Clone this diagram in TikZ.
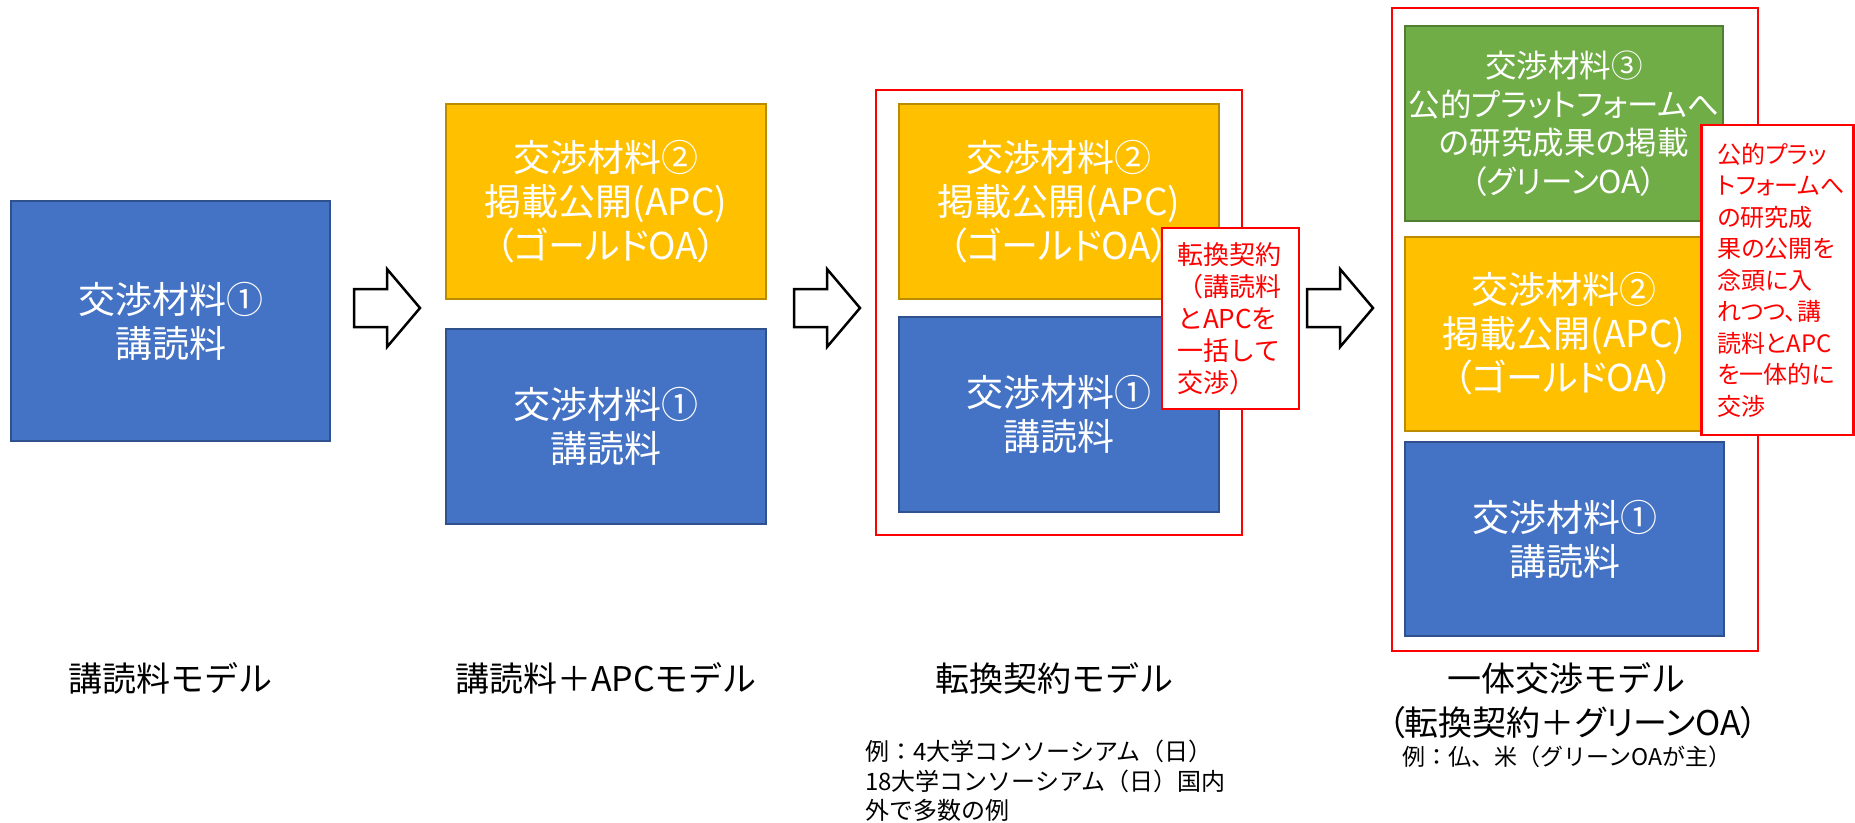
\documentclass[tikz,border=0pt]{standalone}
\usepackage{fontspec}
\setmainfont{Noto Sans CJK JP}
\newfontfamily\jpp{Noto Sans CJK JP}[RawFeature=+palt]
\definecolor{bblue}{HTML}{4472C4}
\definecolor{bblueD}{HTML}{2F528F}
\definecolor{borange}{HTML}{FFC000}
\definecolor{borangeD}{HTML}{BC8C00}
\definecolor{bgreen}{HTML}{70AD47}
\definecolor{bgreenD}{HTML}{507E32}
\definecolor{cred}{HTML}{FF0000}
\begin{document}
\begin{tikzpicture}[x=1pt,y=-1pt,
  base/.style={draw, line width=1.2pt, text=white, align=center, inner sep=0pt,
    font=\jpp\fontsize{37}{44}\selectfont},
  bluebox/.style={base, fill=bblue, draw=bblueD},
  orangebox/.style={base, fill=borange, draw=borangeD},
  greenbox/.style={base, fill=bgreen, draw=bgreenD, font=\jpp\fontsize{31.5}{38.5}\selectfont},
  redframe/.style={draw=cred, line width=2.5pt, inner sep=0pt},
  callout/.style={draw=cred, fill=white, line width=2.5pt, text=cred, align=left, inner ysep=0pt},
  title/.style={font=\fontsize{34}{40}\selectfont, text=black, inner sep=0pt},
  note/.style={font=\fontsize{24}{29.5}\selectfont, align=left, inner sep=0pt},
  arrowline/.style={draw=black, fill=white, line width=2.5pt, line join=miter},
  pics/blockarrow/.style={code={
    \draw[arrowline] (0,-19) -- (33,-19) -- (33,-39) -- (66,0) -- (33,39) -- (33,19) -- (0,19) -- cycle;}}
]
\useasboundingbox (0,0) rectangle (1855,822);

% column 1
\node[bluebox, minimum width=319pt, minimum height=240pt] (b1) at (170.5,321) {交渉材料①\\講読料};

% column 2
\node[orangebox, minimum width=320pt, minimum height=195pt] (o2) at (606,201.5) {交渉材料②\\掲載公開(APC)\\（ゴールドOA）};
\node[bluebox, minimum width=320pt, minimum height=195pt] (b2) at (606,426.5) {交渉材料①\\講読料};

% column 3
\node[redframe, minimum width=366pt, minimum height=445pt] (f3) at (1059,312.5) {};
\node[orangebox, minimum width=320pt, minimum height=195pt] (o3) at (1059,201.5) {交渉材料②\\掲載公開(APC)\\（ゴールドOA）};
\node[bluebox, minimum width=320pt, minimum height=195pt] (b3) at (1059,414.5) {交渉材料①\\講読料};
\node[callout, font=\fontsize{26}{32}\selectfont, text width=107pt, inner xsep=15pt, minimum height=181pt] (c3) at (1230.5,318.5) {転換契約\\（講読料\\とAPCを\\一括して\\交渉）};

% column 4
\node[redframe, minimum width=366pt, minimum height=643pt] (f4) at (1575,329.5) {};
\node[greenbox, minimum width=318pt, minimum height=195pt] (g4) at (1564,123.5) {交渉材料③\\公的プラットフォームへ\\の研究成果の掲載\\（グリーンOA）};
\node[orangebox, minimum width=318pt, minimum height=194pt, font=\jpp\fontsize{37}{44}\selectfont] (o4) at (1564,334) {交渉材料②\\掲載公開(APC)\\（ゴールドOA）};
\node[bluebox, minimum width=319pt, minimum height=194pt] (b4) at (1564.5,539) {交渉材料①\\講読料};
\node[callout, font=\jpp\fontsize{24}{31.5}\selectfont, text width=120pt, inner xsep=16pt, minimum height=310pt] (c4) at (1777.5,280) {公的プラッ\\トフォームへ\\の研究成\\果の公開を\\念頭に入\\れつつ、講\\読料とAPC\\を一体的に\\交渉};

% block arrows
\coordinate (a1) at (354,308);
\coordinate (a2) at (794,308);
\coordinate (a3) at (1307,308);
\pic at (a1) {blockarrow};
\pic at (a2) {blockarrow};
\pic at (a3) {blockarrow};

% titles
\node[title] (t1) at (170.5,678) {講読料モデル};
\node[title] (t2) at (606,678) {講読料＋APCモデル};
\node[title] (t3) at (1054,678) {転換契約モデル};
\node[title] (t4) at (1566,678) {一体交渉モデル};
\node[title, font=\jpp\fontsize{34}{40}\selectfont] (t4b) at (1573,723) {（転換契約＋グリーンOA）};
\node[note, font=\fontsize{23}{28}\selectfont] (n4) at (1567,757) {例：仏、米（グリーンOAが主）};
\node[note, anchor=west] (n3) at (865,781) {例：4大学コンソーシアム（日）\\18大学コンソーシアム（日）国内\\外で多数の例};
\end{tikzpicture}
\end{document}
